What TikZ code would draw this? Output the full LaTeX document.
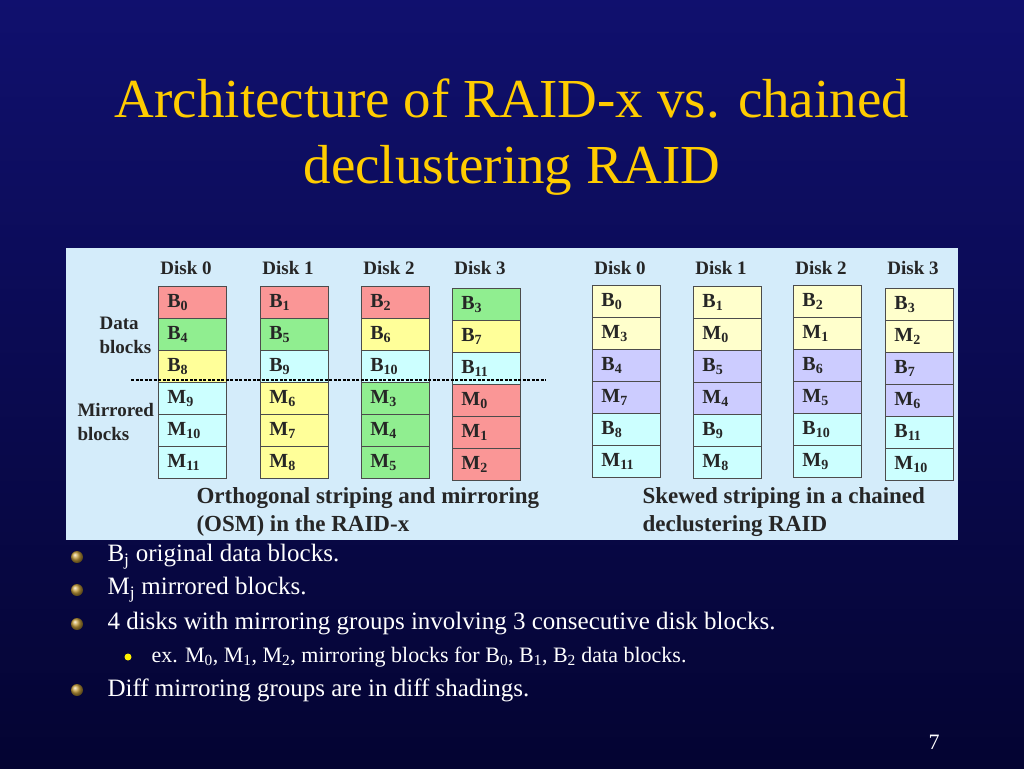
\documentclass[tikz,border=0pt]{standalone}
\usepackage{fontspec}
\setmainfont{Liberation Serif}
\newcommand\sbs[1]{\textsubscript{#1}}
\begin{document}
\begin{tikzpicture}[x=1pt,y=-1pt,
  blk/.style={draw=black!70,line width=0.8pt,minimum width=68pt,minimum height=31.5pt,inner sep=0pt,anchor=north west,text width=62pt,align=left,font=\bfseries\fontsize{20}{20}\selectfont,text=black!85},
  lab/.style={font=\bfseries\fontsize{19}{24}\selectfont,text=black!85,align=left},
  bul/.style={circle,inner sep=0pt,minimum size=12pt,shading=ball,ball color={rgb,255:red,200;green,160;blue,60}},
  btxt/.style={anchor=west,text=white,font=\fontsize{25}{27}\selectfont}]
\definecolor{bg1}{RGB}{16,16,110}
\definecolor{bg2}{RGB}{4,4,50}
\definecolor{cR}{RGB}{250,150,150}
\definecolor{cG}{RGB}{144,238,144}
\definecolor{cY}{RGB}{255,255,153}
\definecolor{cC}{RGB}{204,255,255}
\definecolor{cL}{RGB}{204,204,255}
\definecolor{cP}{RGB}{255,255,204}
\definecolor{panel}{RGB}{212,236,250}
\definecolor{ttl}{RGB}{255,204,0}
\shade[top color=bg1,bottom color=bg2] (0,0) rectangle (1024,768);
\useasboundingbox (0,0) rectangle (1024,768);
\node[text=ttl,font=\fontsize{55}{66}\selectfont,align=center] (title) at (512,137) {Architecture of RAID-x vs. chained\\declustering RAID};
\fill[panel] (66,248) rectangle (958,540);
% left
\foreach \x/\n in {158/0,260/1,361/2,452/3}{
  \node[lab] (L\n) at (\x+28,268) {Disk \n};}
\def\col#1#2#3#4{\foreach \c/\s [count=\k from 0] in {#4}{\node[blk,fill=\c] (#1-\k) at (#2,#3+\k*32) {\hspace*{6pt}\s};}}
\col{a}{158}{286}{cR/B\sbs{0},cG/B\sbs{4},cY/B\sbs{8},cC/M\sbs{9},cC/M\sbs{10},cC/M\sbs{11}}
\col{b}{260}{286}{cR/B\sbs{1},cG/B\sbs{5},cC/B\sbs{9},cY/M\sbs{6},cY/M\sbs{7},cY/M\sbs{8}}
\col{c}{361}{286}{cR/B\sbs{2},cY/B\sbs{6},cC/B\sbs{10},cG/M\sbs{3},cG/M\sbs{4},cG/M\sbs{5}}
\col{d}{452}{288}{cG/B\sbs{3},cY/B\sbs{7},cC/B\sbs{11},cR/M\sbs{0},cR/M\sbs{1},cR/M\sbs{2}}
\coordinate (dl) at (131,380); \coordinate (dr) at (546,380);
\draw[line width=2.5pt,dash pattern=on 3pt off 1.5pt] (dl) -- (dr);
\node[lab,anchor=west] (data) at (96,335) {Data\\blocks};
\node[lab,anchor=west] (mir) at (74,422) {Mirrored\\blocks};
\node[lab,anchor=north west,font=\bfseries\fontsize{23}{28}\selectfont] (capL) at (193,484) {Orthogonal striping and mirroring\\(OSM) in the RAID-x};
% right
\foreach \x/\n in {592/0,693/1,793/2,885/3}{\node[lab] (R\n) at (\x+28,268) {Disk \n};}
\col{e}{592}{285}{cP/B\sbs{0},cP/M\sbs{3},cL/B\sbs{4},cL/M\sbs{7},cC/B\sbs{8},cC/M\sbs{11}}
\col{f}{693}{286}{cP/B\sbs{1},cP/M\sbs{0},cL/B\sbs{5},cL/M\sbs{4},cC/B\sbs{9},cC/M\sbs{8}}
\col{g}{793}{285}{cP/B\sbs{2},cP/M\sbs{1},cL/B\sbs{6},cL/M\sbs{5},cC/B\sbs{10},cC/M\sbs{9}}
\col{h}{885}{288}{cP/B\sbs{3},cP/M\sbs{2},cL/B\sbs{7},cL/M\sbs{6},cC/B\sbs{11},cC/M\sbs{10}}
\node[lab,anchor=north west,font=\bfseries\fontsize{23}{28}\selectfont] (capR) at (639,484) {Skewed striping in a chained\\declustering RAID};
% bullets
\foreach \y/\t [count=\i] in {557/{B\sbs{j} original data blocks.},590/{M\sbs{j} mirrored blocks.},624/{4 disks with mirroring groups involving 3 consecutive disk blocks.},690/{Diff mirroring groups are in diff shadings.}}{
  \node[bul] (b\i) at (77,\y) {};
  \node[btxt] (t\i) at (104,\y) {\t};}
\node[circle,fill=yellow,inner sep=0pt,minimum size=7pt] (sb) at (128,657) {};
\node[btxt,font=\fontsize{22}{24}\selectfont] (st) at (148,657) {ex. M\sbs{0}, M\sbs{1}, M\sbs{2}, mirroring blocks for B\sbs{0}, B\sbs{1}, B\sbs{2} data blocks.};
\node[text=white,font=\fontsize{22}{24}\selectfont] (pg) at (934,742) {7};
\end{tikzpicture}
\end{document}
